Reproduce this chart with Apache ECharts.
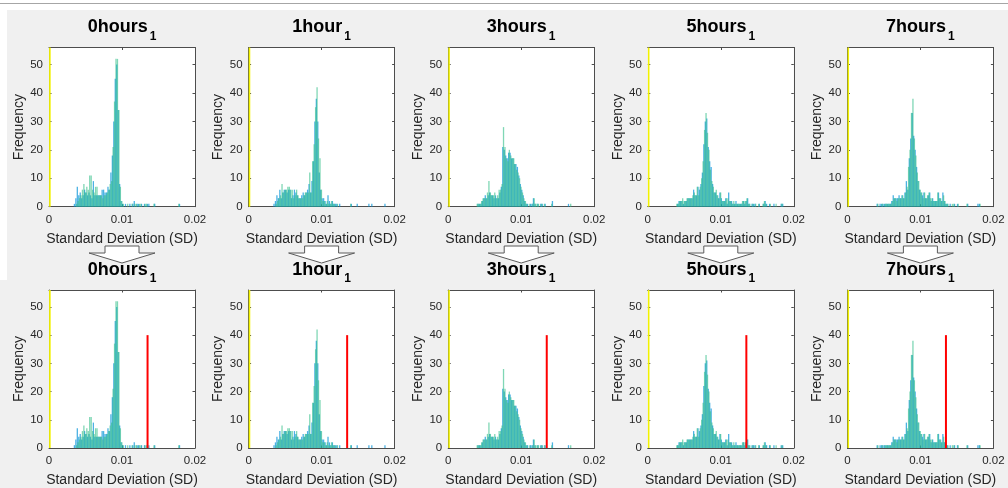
<!DOCTYPE html>
<html>
<head>
<meta charset="utf-8">
<script src="https://cdn.jsdelivr.net/npm/echarts@6/dist/echarts.min.js"></script>
<style>
  html, body { margin: 0; padding: 0; background: #ffffff; }
  #chart { width: 1008px; height: 488px; }
</style>
</head>
<body>
<div id="chart"></div>
<script>
// ---- Panel titles and axis texts ----
const timePoints = ['0hours', '1hour', '3hours', '5hours', '7hours'];
const titleSubscript = '1';
const xAxisTitle = 'Standard Deviation (SD)';
const yAxisTitle = 'Frequency';

// ---- Axis ranges / ticks ----
const sdTicks = [0, 0.01, 0.02];
const freqTicks = [0, 10, 20, 30, 40, 50];
const freqMax = 56;

// ---- Histogram bins: two interleaved bin sets of width 0.0002 ----
const binWidth = 0.0002;
const binEdgeA = 0.0030;   // first left edge, set A
const binEdgeB = 0.0031;   // first left edge, set B

// counts per bin (80 bins each, 0.0030 .. 0.0190 / 0.0031 .. 0.0191)
const countsA_0h = [
  0,0,1,3,7,4,5,3,4,6,
  5,4,5,4,3,9,4,4,4,4,
  4,6,6,5,5,7,6,12,18,30,
  45,50,34,8,2,1,0,1,0,0,
  1,0,1,2,0,1,1,0,1,0,
  1,0,1,1,0,0,0,1,0,0,
  0,0,0,0,0,0,0,0,0,0,
  0,0,0,0,1,0,0,0,0,0];
const countsB_0h = [
  0,0,0,1,2,3,4,6,8,5,
  7,6,11,11,6,5,7,7,4,4,
  4,3,4,4,5,6,8,9,21,37,
  52,52,34,7,2,1,0,0,1,0,
  0,1,0,1,1,0,1,1,0,0,
  1,1,0,0,0,0,1,0,0,0,
  0,0,0,0,0,0,0,0,0,0,
  0,0,0,1,0,0,0,0,0,0];

const countsA_1h = [
  0,0,1,2,4,3,6,3,5,6,
  6,5,6,6,3,4,6,5,4,3,
  3,4,5,4,5,6,8,5,9,16,
  30,38,30,12,6,3,3,2,1,4,
  2,1,2,1,1,1,0,1,0,0,
  0,0,0,0,0,1,0,0,0,1,
  0,0,0,0,0,0,0,1,0,1,
  0,0,0,0,0,0,0,0,1,0];
const countsB_1h = [
  0,0,0,1,2,3,4,8,5,6,
  6,7,7,6,6,3,4,6,4,3,
  3,3,4,5,5,5,12,5,16,22,
  35,42,24,17,6,2,2,1,2,1,
  1,2,1,1,0,1,0,0,0,0,
  0,0,0,0,1,0,0,0,0,0,
  0,0,0,0,0,0,0,0,0,0,
  0,0,0,0,0,0,0,0,0,0];

const countsA_3h = [
  0,0,0,0,0,1,1,1,2,3,
  4,3,4,5,4,4,3,4,3,3,
  5,7,21,20,18,17,19,19,17,17,
  15,15,14,11,8,6,4,2,1,1,
  0,1,1,3,1,0,1,0,1,1,
  0,1,0,0,0,0,2,0,0,0,
  0,0,0,0,0,0,0,1,0,0,
  0,0,0,0,0,0,0,0,0,0];
const countsB_3h = [
  0,0,0,0,1,1,1,2,3,3,
  3,5,9,5,4,4,5,3,4,6,
  6,8,28,21,17,16,20,18,17,17,
  15,13,12,10,7,5,3,2,1,0,
  1,0,1,3,1,1,1,0,1,0,
  1,0,0,0,0,1,0,0,0,0,
  0,0,0,0,0,0,0,0,1,0,
  0,0,0,0,0,0,0,0,0,0];

const countsA_5h = [
  0,0,0,0,0,1,2,2,2,1,
  2,2,3,3,3,3,6,4,4,7,
  6,8,12,22,30,31,21,16,14,8,
  5,5,4,3,5,3,2,2,3,1,
  5,2,2,1,1,2,1,1,1,1,
  2,1,2,3,1,0,1,1,1,0,
  0,1,0,0,1,2,1,0,1,0,
  0,1,0,0,0,0,1,1,0,0];
const countsB_5h = [
  0,0,0,0,1,1,2,2,3,2,
  2,3,3,3,3,4,5,4,7,4,
  7,10,16,27,33,26,20,13,9,7,
  5,6,4,3,5,2,2,2,3,3,
  2,2,1,2,1,1,1,1,1,2,
  2,2,3,1,1,0,1,0,1,0,
  1,0,0,1,2,1,0,0,1,0,
  0,0,1,0,0,0,1,0,0,0];

const countsA_7h = [
  0,0,0,0,0,1,0,1,1,1,
  1,1,1,1,1,2,4,3,3,3,
  4,3,4,3,5,9,6,17,24,33,
  25,20,14,9,6,5,4,5,3,3,
  4,5,2,3,2,2,2,5,3,2,
  5,2,1,1,0,1,0,0,1,0,
  1,0,0,0,0,0,0,1,0,0,
  0,0,0,0,1,1,0,0,0,0];
const countsB_7h = [
  0,0,0,0,0,1,0,0,1,0,
  1,1,1,1,1,2,3,3,2,3,
  3,3,4,3,5,7,14,20,33,38,
  24,18,12,9,6,5,3,5,3,4,
  5,3,3,2,2,2,5,3,3,2,
  4,2,1,1,0,0,1,1,0,0,
  1,0,0,0,0,0,1,0,0,0,
  0,0,0,0,0,1,0,0,0,0];

// Near-zero bin that runs off the top of every panel
const zeroSpike = [0.00012, 56];

// Threshold marker drawn in the lower row
const thresholdSD = 0.0135;
const thresholdHeight = 40;

const countsA = [countsA_0h, countsA_1h, countsA_3h, countsA_5h, countsA_7h];
const countsB = [countsB_0h, countsB_1h, countsB_3h, countsB_5h, countsB_7h];

// ---- Styling / layout ----
const FONT = 'Liberation Sans, Arial, Helvetica, sans-serif';
const textColor = '#262626';
const axisColor = '#4d4d4d';
const colorA = 'rgba(0,145,215,0.7)';
const colorB = 'rgba(50,190,135,0.62)';
const colLeft = c => 49 + 199.6 * c;
const boxW = 146;
const rowTop = [47.5, 290];
const boxH = 159.2;

function binned(counts, firstEdge) {
  return counts.map((n, k) => [firstEdge + binWidth * (k + 0.5), n]);
}

const grids = [], xAxes = [], yAxes = [], series = [], titles = [], graphics = [];

// figure frame
graphics.push({ type: 'rect', shape: { x: 0, y: 0, width: 1008, height: 10 }, style: { fill: '#ffffff' }, z: -10 });
graphics.push({ type: 'rect', shape: { x: 0, y: 0, width: 7, height: 280 }, style: { fill: '#ffffff' }, z: -10 });
graphics.push({ type: 'line', shape: { x1: 0, y1: 3.5, x2: 1008, y2: 3.5 }, style: { stroke: '#a6a6a6', lineWidth: 1 }, z: -9 });

for (let r = 0; r < 2; r++) {
  for (let c = 0; c < timePoints.length; c++) {
    const idx = r * timePoints.length + c;
    const cx = colLeft(c) + boxW / 2;
    grids.push({ left: colLeft(c), top: rowTop[r], width: boxW, height: boxH,
      show: true, backgroundColor: '#ffffff', borderWidth: 0 });

    const tickStyle = { show: true, inside: true, length: 2.5, lineStyle: { color: axisColor, width: 1 } };
    const lineStyle = { show: true, onZero: false, lineStyle: { color: axisColor, width: 1 } };

    xAxes.push({
      type: 'value', gridIndex: idx, position: 'bottom',
      min: sdTicks[0], max: sdTicks[sdTicks.length - 1], interval: sdTicks[1] - sdTicks[0],
      axisLine: lineStyle, axisTick: tickStyle, splitLine: { show: false },
      axisLabel: { color: textColor, fontSize: 11.5, fontFamily: FONT, margin: 7 },
      name: xAxisTitle, nameLocation: 'middle', nameGap: 25,
      nameTextStyle: { color: textColor, fontSize: 14, fontFamily: FONT }
    });
    xAxes.push({
      type: 'value', gridIndex: idx, position: 'top',
      min: sdTicks[0], max: sdTicks[sdTicks.length - 1], interval: sdTicks[1] - sdTicks[0],
      axisLine: lineStyle, axisTick: tickStyle, splitLine: { show: false },
      axisLabel: { show: false }
    });
    yAxes.push({
      type: 'value', gridIndex: idx, position: 'left',
      min: 0, max: freqMax, interval: freqTicks[1] - freqTicks[0],
      axisLine: lineStyle, axisTick: tickStyle, splitLine: { show: false },
      axisLabel: { color: textColor, fontSize: 11.5, fontFamily: FONT, margin: 6,
        formatter: v => (freqTicks.indexOf(v) >= 0 ? String(v) : '') },
      name: yAxisTitle, nameLocation: 'middle', nameGap: 23, nameRotate: 90,
      nameTextStyle: { color: textColor, fontSize: 14, fontFamily: FONT }
    });
    yAxes.push({
      type: 'value', gridIndex: idx, position: 'right',
      min: 0, max: freqMax, interval: freqTicks[1] - freqTicks[0],
      axisLine: lineStyle, axisTick: tickStyle, splitLine: { show: false },
      axisLabel: { show: false }
    });

    const axisRef = { xAxisIndex: 2 * idx, yAxisIndex: 2 * idx };
    series.push(Object.assign({ type: 'bar', name: timePoints[c] + ' A', data: binned(countsA[c], binEdgeA),
      barWidth: 1.3, barGap: '-100%', itemStyle: { color: colorA }, silent: true }, axisRef));
    series.push(Object.assign({ type: 'bar', name: timePoints[c] + ' B', data: binned(countsB[c], binEdgeB),
      barWidth: 1.3, barGap: '-100%', itemStyle: { color: colorB }, silent: true }, axisRef));
    series.push(Object.assign({ type: 'bar', name: timePoints[c] + ' zero', data: [zeroSpike],
      barWidth: 1.6, barGap: '-100%', itemStyle: { color: '#f2f200' }, silent: true }, axisRef));
    if (r === 1) {
      series.push(Object.assign({ type: 'line', name: timePoints[c] + ' threshold',
        data: [[thresholdSD, 0], [thresholdSD, thresholdHeight]],
        symbol: 'none', lineStyle: { color: '#ff0000', width: 2 }, z: 5, silent: true }, axisRef));
    }

    titles.push({
      text: '{m|' + timePoints[c] + '}{s|' + titleSubscript + '}',
      left: cx, top: rowTop[r] - 29, textAlign: 'center', padding: 0,
      textStyle: { rich: {
        m: { fontSize: 18, fontWeight: 'bold', fontFamily: FONT, color: '#000000', lineHeight: 22, verticalAlign: 'top' },
        s: { fontSize: 12, fontWeight: 'bold', fontFamily: FONT, color: '#000000', lineHeight: 12, verticalAlign: 'top', padding: [12, 0, 0, 2] }
      } }
    });

    // hollow arrow linking the two rows
    if (r === 0) {
      graphics.push({
        type: 'polygon', z: 1,
        shape: { points: [
          [cx - 17, 246], [cx + 17, 246], [cx + 17, 253], [cx + 33, 253],
          [cx, 263], [cx - 33, 253], [cx - 17, 253]
        ] },
        style: { fill: '#ffffff', stroke: '#5a5a5a', lineWidth: 1 }
      });
    }
  }
}

const chart = echarts.init(document.getElementById('chart'), null, { renderer: 'canvas' });
chart.setOption({
  animation: false,
  backgroundColor: '#f0f0f0',
  title: titles,
  grid: grids,
  xAxis: xAxes,
  yAxis: yAxes,
  series: series,
  graphic: graphics
});
</script>
</body>
</html>
